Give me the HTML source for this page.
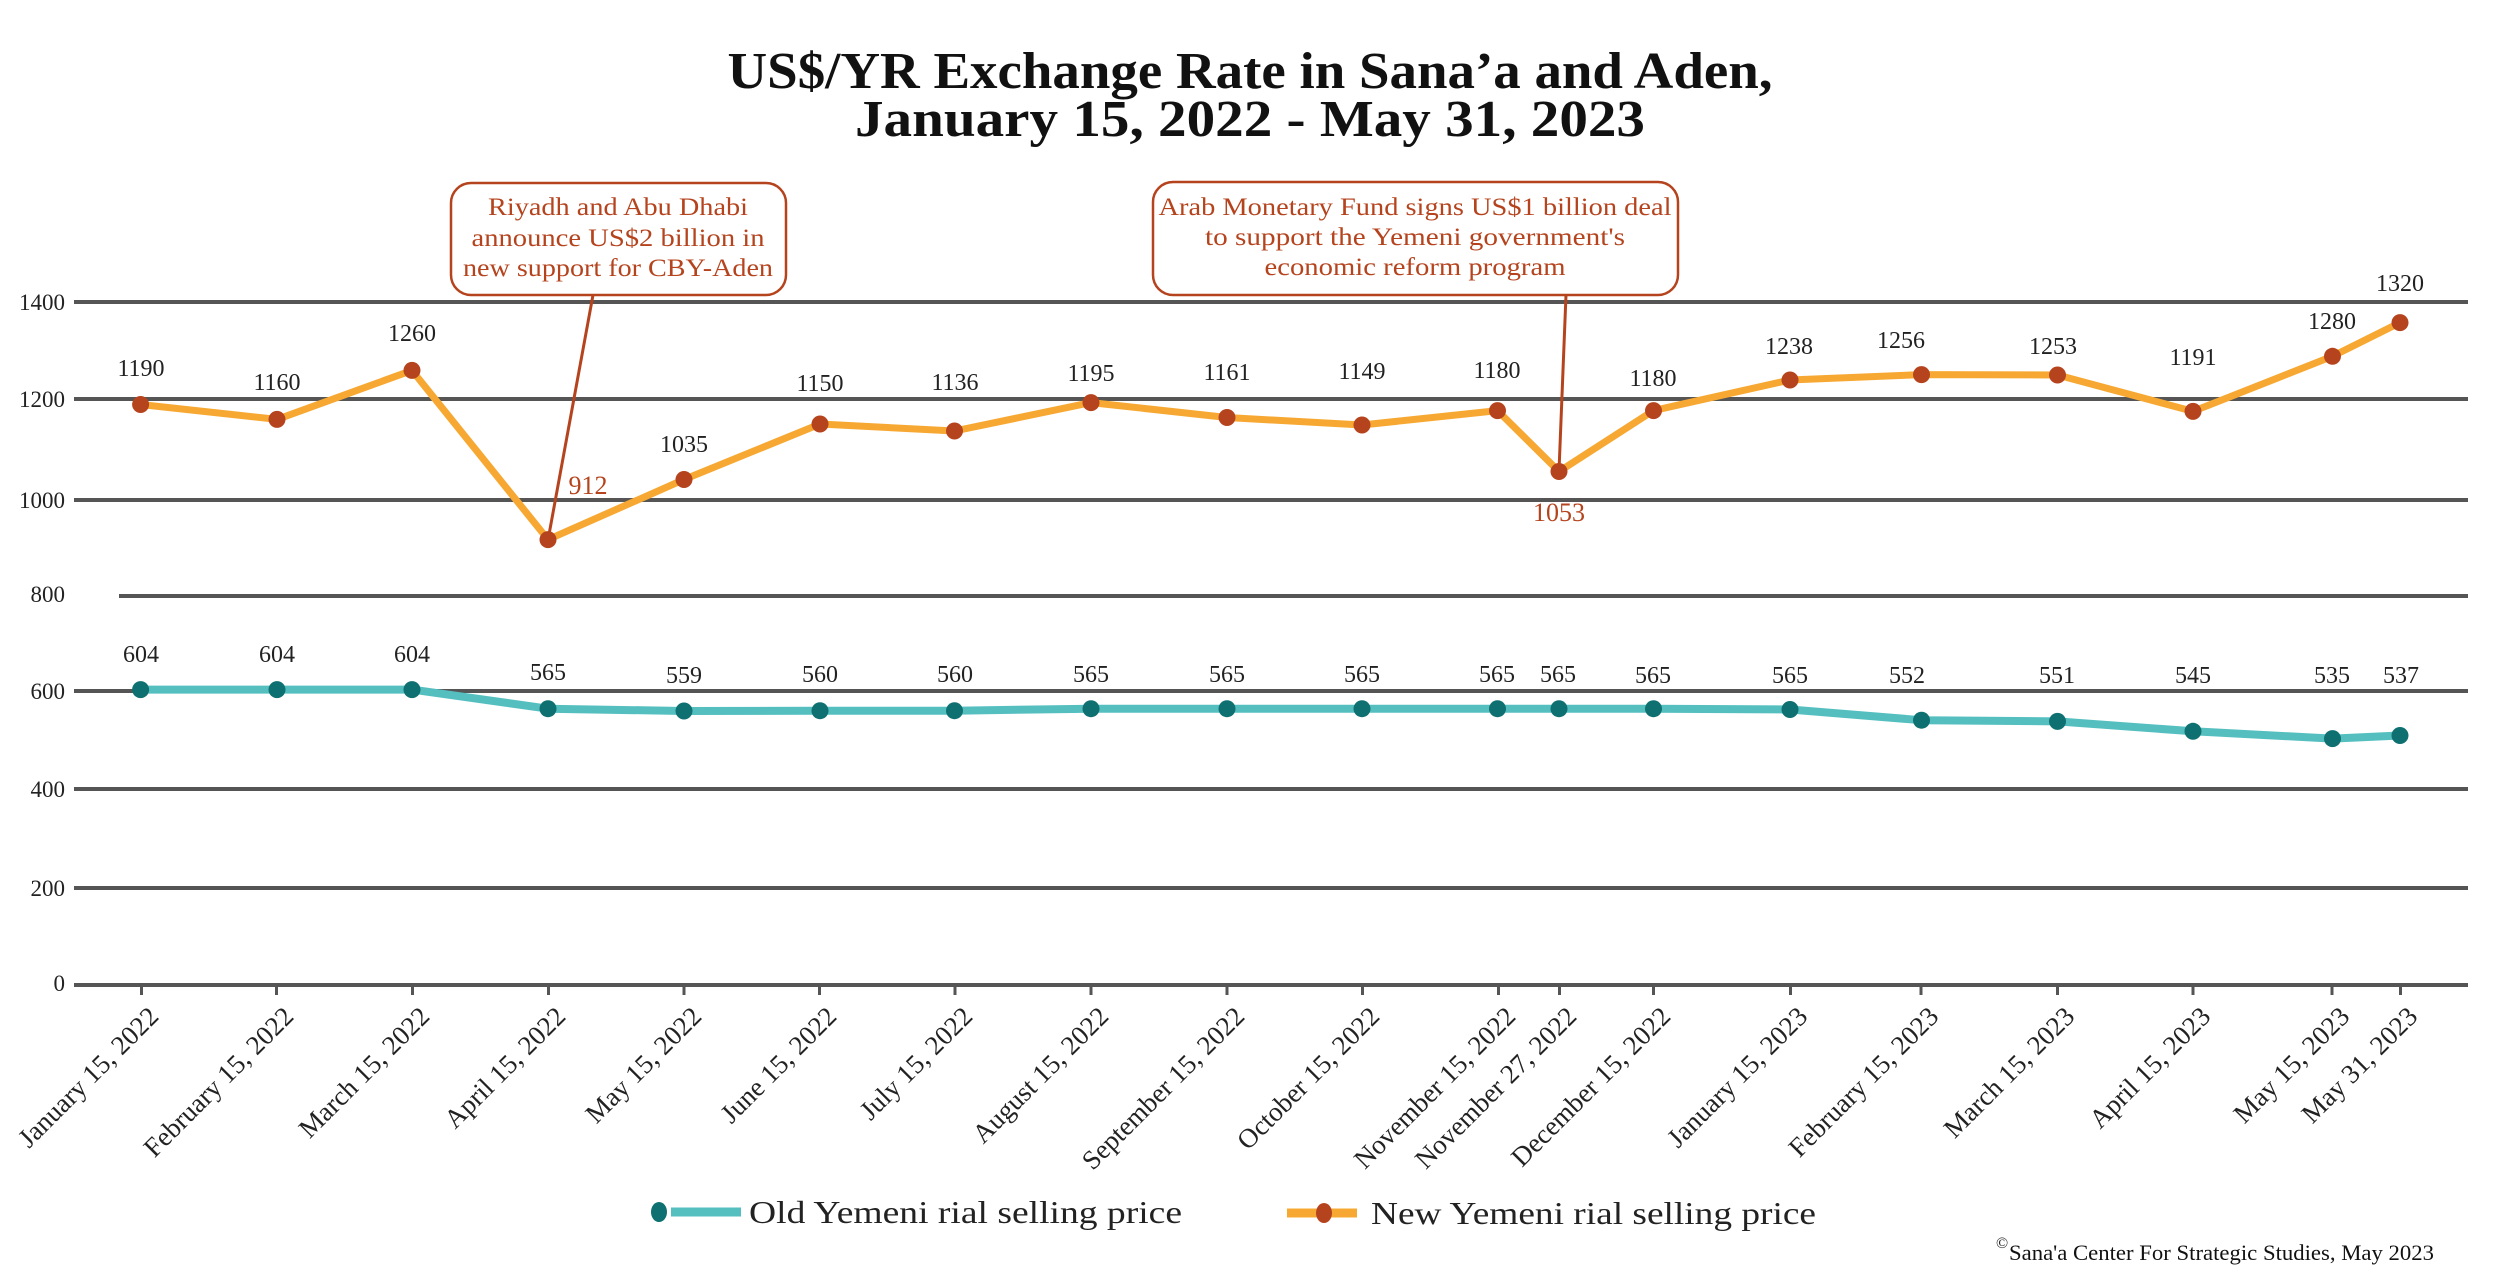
<!DOCTYPE html>
<html><head><meta charset="utf-8"><style>
html,body{margin:0;padding:0;background:#fff}
svg{display:block}
text{font-family:"Liberation Serif",serif}
</style></head><body>
<svg width="2500" height="1274" viewBox="0 0 2500 1274" xmlns="http://www.w3.org/2000/svg">
<rect width="2500" height="1274" fill="#fff"/>
<text x="1250" y="88" font-size="52" font-weight="bold" text-anchor="middle" fill="#111" textLength="1045" lengthAdjust="spacingAndGlyphs">US$/YR Exchange Rate in Sana’a and Aden,</text>
<text x="1250" y="136" font-size="52" font-weight="bold" text-anchor="middle" fill="#111" textLength="790" lengthAdjust="spacingAndGlyphs">January 15, 2022 - May 31, 2023</text>

<g stroke="#555" stroke-width="4">
<line x1="74" y1="302" x2="2468" y2="302"/>
<line x1="74" y1="399" x2="2468" y2="399"/>
<line x1="74" y1="500" x2="2468" y2="500"/>
<line x1="119" y1="596" x2="2468" y2="596"/>
<line x1="74" y1="691" x2="2468" y2="691"/>
<line x1="74" y1="789" x2="2468" y2="789"/>
<line x1="74" y1="888" x2="2468" y2="888"/>
<line x1="74" y1="985" x2="2468" y2="985"/>
</g>
<g font-size="23" fill="#222" text-anchor="end">
<text x="65" y="310">1400</text>
<text x="65" y="407">1200</text>
<text x="65" y="508">1000</text>
<text x="65" y="602">800</text>
<text x="65" y="699">600</text>
<text x="65" y="797">400</text>
<text x="65" y="896">200</text>
<text x="65" y="991">0</text>
</g>

<g stroke="#555" stroke-width="3">
<line x1="141.5" y1="985" x2="141.5" y2="995"/>
<line x1="276.5" y1="985" x2="276.5" y2="995"/>
<line x1="412.5" y1="985" x2="412.5" y2="995"/>
<line x1="548.5" y1="985" x2="548.5" y2="995"/>
<line x1="684" y1="985" x2="684" y2="995"/>
<line x1="819.5" y1="985" x2="819.5" y2="995"/>
<line x1="955" y1="985" x2="955" y2="995"/>
<line x1="1091" y1="985" x2="1091" y2="995"/>
<line x1="1227" y1="985" x2="1227" y2="995"/>
<line x1="1362.5" y1="985" x2="1362.5" y2="995"/>
<line x1="1498.5" y1="985" x2="1498.5" y2="995"/>
<line x1="1559.5" y1="985" x2="1559.5" y2="995"/>
<line x1="1653.5" y1="985" x2="1653.5" y2="995"/>
<line x1="1790.5" y1="985" x2="1790.5" y2="995"/>
<line x1="1921" y1="985" x2="1921" y2="995"/>
<line x1="2057.5" y1="985" x2="2057.5" y2="995"/>
<line x1="2193" y1="985" x2="2193" y2="995"/>
<line x1="2332" y1="985" x2="2332" y2="995"/>
<line x1="2400.5" y1="985" x2="2400.5" y2="995"/>
</g>
<g font-size="27" fill="#222" text-anchor="end">
<text transform="translate(160,1018) rotate(-45)">January 15, 2022</text>
<text transform="translate(295,1018) rotate(-45)">February 15, 2022</text>
<text transform="translate(431,1018) rotate(-45)">March 15, 2022</text>
<text transform="translate(567,1018) rotate(-45)">April 15, 2022</text>
<text transform="translate(703,1018) rotate(-45)">May 15, 2022</text>
<text transform="translate(838,1018) rotate(-45)">June 15, 2022</text>
<text transform="translate(974,1018) rotate(-45)">July 15, 2022</text>
<text transform="translate(1110,1018) rotate(-45)">August 15, 2022</text>
<text transform="translate(1246,1018) rotate(-45)">September 15, 2022</text>
<text transform="translate(1381,1018) rotate(-45)">October 15, 2022</text>
<text transform="translate(1517,1018) rotate(-45)">November 15, 2022</text>
<text transform="translate(1578,1018) rotate(-45)">November 27, 2022</text>
<text transform="translate(1672,1018) rotate(-45)">December 15, 2022</text>
<text transform="translate(1809,1018) rotate(-45)">January 15, 2023</text>
<text transform="translate(1940,1018) rotate(-45)">February 15, 2023</text>
<text transform="translate(2076,1018) rotate(-45)">March 15, 2023</text>
<text transform="translate(2212,1018) rotate(-45)">April 15, 2023</text>
<text transform="translate(2351,1018) rotate(-45)">May 15, 2023</text>
<text transform="translate(2419,1018) rotate(-45)">May 31, 2023</text>
</g>

<line x1="593" y1="295" x2="548" y2="540" stroke="#b5441e" stroke-width="3"/>
<line x1="1566" y1="295" x2="1559" y2="471" stroke="#b5441e" stroke-width="3"/>

<polyline fill="none" stroke="#f7a832" stroke-width="7" stroke-linejoin="round"
points="140.6,404.5 277,419.4 412,370.4 548,539.6 684,479.5 820,424 954.5,431 1091,402.6 1227,417.5 1362,425 1497.5,410.6 1559,471.5 1653.5,410.6 1790,380 1921.5,374.6 2057.5,375 2193,411.4 2332.5,356.3 2400,322.6"/>
<g fill="#b5441e">
<circle cx="140.6" cy="404.5" r="8.5"/><circle cx="277" cy="419.4" r="8.5"/><circle cx="412" cy="370.4" r="8.5"/>
<circle cx="548" cy="539.6" r="8.5"/><circle cx="684" cy="479.5" r="8.5"/><circle cx="820" cy="424" r="8.5"/>
<circle cx="954.5" cy="431" r="8.5"/><circle cx="1091" cy="402.6" r="8.5"/><circle cx="1227" cy="417.5" r="8.5"/>
<circle cx="1362" cy="425" r="8.5"/><circle cx="1497.5" cy="410.6" r="8.5"/><circle cx="1559" cy="471.5" r="8.5"/>
<circle cx="1653.5" cy="410.6" r="8.5"/><circle cx="1790" cy="380" r="8.5"/><circle cx="1921.5" cy="374.6" r="8.5"/>
<circle cx="2057.5" cy="375" r="8.5"/><circle cx="2193" cy="411.4" r="8.5"/><circle cx="2332.5" cy="356.3" r="8.5"/>
<circle cx="2400" cy="322.6" r="8.5"/>
</g>
<g font-size="24" fill="#222" text-anchor="middle">
<text x="141" y="376">1190</text>
<text x="277" y="390">1160</text>
<text x="412" y="341">1260</text>
<text x="684" y="452">1035</text>
<text x="820" y="391">1150</text>
<text x="955" y="390">1136</text>
<text x="1091" y="381">1195</text>
<text x="1227" y="380">1161</text>
<text x="1362" y="379">1149</text>
<text x="1497" y="378">1180</text>
<text x="1653" y="386">1180</text>
<text x="1789" y="354">1238</text>
<text x="1901" y="348">1256</text>
<text x="2053" y="354">1253</text>
<text x="2193" y="365">1191</text>
<text x="2332" y="329">1280</text>
<text x="2400" y="291">1320</text>
</g>
<g font-size="26" fill="#b5441e" text-anchor="middle">
<text x="588" y="494">912</text>
<text x="1559" y="521">1053</text>
</g>

<polyline fill="none" stroke="#55bfc0" stroke-width="8" stroke-linejoin="round"
points="140.6,689.6 277,689.6 412,689.6 548,708.7 684,711 820,710.7 954.5,710.7 1091,708.7 1227,708.7 1362,708.7 1497.5,708.7 1559,708.7 1653.5,708.7 1790,709.5 1921.5,720.2 2057.5,721.4 2193,731.3 2332.5,738.6 2400,735.5"/>
<g fill="#0e7070">
<circle cx="140.6" cy="689.6" r="8.5"/><circle cx="277" cy="689.6" r="8.5"/><circle cx="412" cy="689.6" r="8.5"/>
<circle cx="548" cy="708.7" r="8.5"/><circle cx="684" cy="711" r="8.5"/><circle cx="820" cy="710.7" r="8.5"/>
<circle cx="954.5" cy="710.7" r="8.5"/><circle cx="1091" cy="708.7" r="8.5"/><circle cx="1227" cy="708.7" r="8.5"/>
<circle cx="1362" cy="708.7" r="8.5"/><circle cx="1497.5" cy="708.7" r="8.5"/><circle cx="1559" cy="708.7" r="8.5"/>
<circle cx="1653.5" cy="708.7" r="8.5"/><circle cx="1790" cy="709.5" r="8.5"/><circle cx="1921.5" cy="720.2" r="8.5"/>
<circle cx="2057.5" cy="721.4" r="8.5"/><circle cx="2193" cy="731.3" r="8.5"/><circle cx="2332.5" cy="738.6" r="8.5"/>
<circle cx="2400" cy="735.5" r="8.5"/>
</g>
<g font-size="24" fill="#222" text-anchor="middle">
<text x="141" y="662">604</text>
<text x="277" y="662">604</text>
<text x="412" y="662">604</text>
<text x="548" y="680">565</text>
<text x="684" y="683">559</text>
<text x="820" y="682">560</text>
<text x="955" y="682">560</text>
<text x="1091" y="682">565</text>
<text x="1227" y="682">565</text>
<text x="1362" y="682">565</text>
<text x="1497" y="682">565</text>
<text x="1558" y="682">565</text>
<text x="1653" y="683">565</text>
<text x="1790" y="683">565</text>
<text x="1907" y="683">552</text>
<text x="2057" y="683">551</text>
<text x="2193" y="683">545</text>
<text x="2332" y="683">535</text>
<text x="2401" y="683">537</text>
</g>

<rect x="451" y="183" width="335" height="112" rx="20" fill="#fff" stroke="#b5441e" stroke-width="2.5"/>
<g font-size="25" fill="#b5441e" text-anchor="middle">
<text x="618" y="215" textLength="260" lengthAdjust="spacingAndGlyphs">Riyadh and Abu Dhabi</text>
<text x="618" y="246" textLength="293" lengthAdjust="spacingAndGlyphs">announce US$2 billion in</text>
<text x="618" y="276" textLength="310" lengthAdjust="spacingAndGlyphs">new support for CBY-Aden</text>
</g>
<rect x="1153" y="182" width="525" height="113" rx="20" fill="#fff" stroke="#b5441e" stroke-width="2.5"/>
<g font-size="25" fill="#b5441e" text-anchor="middle">
<text x="1415" y="215" textLength="513" lengthAdjust="spacingAndGlyphs">Arab Monetary Fund signs US$1 billion deal</text>
<text x="1415" y="245" textLength="420" lengthAdjust="spacingAndGlyphs">to support the Yemeni government's</text>
<text x="1415" y="275" textLength="301" lengthAdjust="spacingAndGlyphs">economic reform program</text>
</g>

<line x1="671" y1="1212" x2="741" y2="1212" stroke="#55bfc0" stroke-width="9"/>
<ellipse cx="659" cy="1212" rx="8" ry="10" fill="#0e7070"/>
<text x="749" y="1223" font-size="32" fill="#222" textLength="433" lengthAdjust="spacingAndGlyphs">Old Yemeni rial selling price</text>
<line x1="1287" y1="1213" x2="1357" y2="1213" stroke="#f7a832" stroke-width="9"/>
<ellipse cx="1324" cy="1213" rx="8" ry="10" fill="#b5441e"/>
<text x="1371" y="1224" font-size="32" fill="#222" textLength="445" lengthAdjust="spacingAndGlyphs">New Yemeni rial selling price</text>

<text x="1996" y="1248" font-size="16" fill="#222">©</text>
<text x="2009" y="1260" font-size="22" fill="#111" textLength="425" lengthAdjust="spacingAndGlyphs">Sana'a Center For Strategic Studies, May 2023</text>
</svg>
</body></html>
